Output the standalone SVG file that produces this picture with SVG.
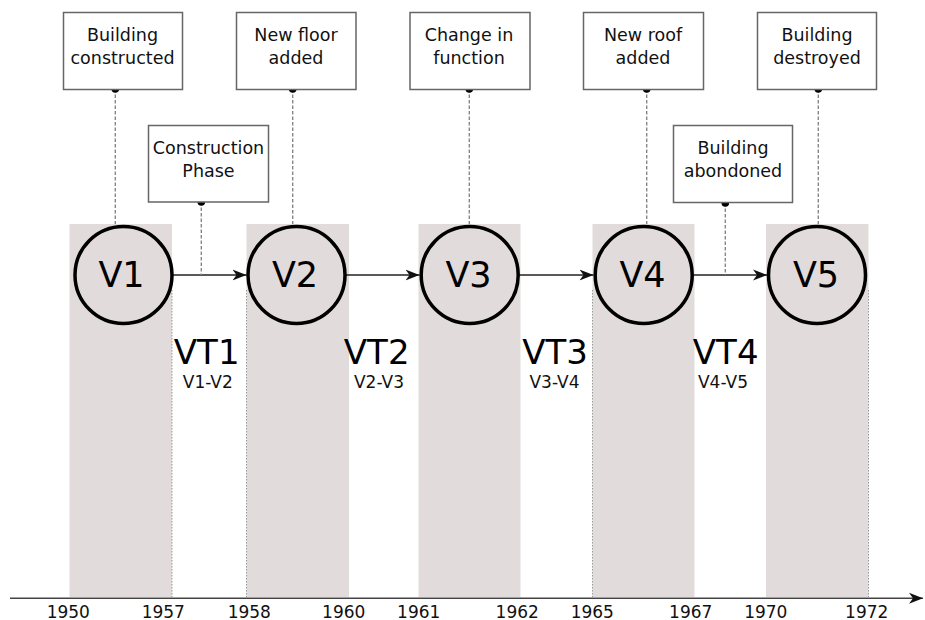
<svg xmlns="http://www.w3.org/2000/svg" width="925" height="620" viewBox="0 0 925 620">
<style>
.band{fill:#e2dbdc;stroke:none}
.edge{stroke:#999;stroke-width:1;stroke-dasharray:1.5,1.5;fill:none}
.box{fill:#fff;stroke:#666;stroke-width:1.5}
.bt{font-family:"DejaVu Sans",sans-serif;font-size:17.5px;fill:#111;text-anchor:middle}
.circ{fill:#e2dbdc;stroke:#000;stroke-width:3.5}
.vt{font-family:"DejaVu Sans",sans-serif;font-size:35px;fill:#000;text-anchor:middle}
.vtl{font-family:"DejaVu Sans",sans-serif;font-size:34px;fill:#000;text-anchor:middle}
.vs{font-family:"DejaVu Sans",sans-serif;font-size:17px;fill:#111;text-anchor:middle}
.yr{font-family:"DejaVu Sans",sans-serif;font-size:17px;fill:#111;text-anchor:middle}
.arr{stroke:#222;stroke-width:1.5;fill:none}
.dash{stroke:#888;stroke-width:1.4;stroke-dasharray:3.5,2;fill:none}
.dot{fill:#000}
</style>
<defs>
<marker id="ah" markerUnits="userSpaceOnUse" markerWidth="16" markerHeight="12" refX="14" refY="6" orient="auto">
<path d="M14,6 L0,0.5 L4,6 L0,11.5 Z" fill="#111"/>
</marker>
<marker id="axh" markerUnits="userSpaceOnUse" markerWidth="16" markerHeight="12" refX="14" refY="6" orient="auto">
<path d="M14,6 L0,0.5 L4,6 L0,11.5 Z" fill="#111"/>
</marker>
</defs>
<g id="bands">
<rect class="band" x="69.5" y="224" width="102.5" height="373"/>
<rect class="band" x="246.5" y="224" width="102.5" height="373"/>
<rect class="band" x="418.5" y="224" width="102" height="373"/>
<rect class="band" x="592.5" y="224" width="102" height="373"/>
<rect class="band" x="766" y="224" width="102.5" height="373"/>
<line class="edge" x1="172" y1="290" x2="172" y2="597"/>
<line class="edge" x1="246.5" y1="290" x2="246.5" y2="597"/>
<line class="edge" x1="592.5" y1="290" x2="592.5" y2="597"/>
<line class="edge" x1="868.5" y1="290" x2="868.5" y2="597"/>
</g>
<g id="axis">
<line x1="10" y1="598.3" x2="923" y2="598.3" stroke="#444" stroke-width="1.5" marker-end="url(#axh)"/>
<text class="yr" x="68.3" y="617.5">1950</text>
<text class="yr" x="163.3" y="617.5">1957</text>
<text class="yr" x="249.3" y="617.5">1958</text>
<text class="yr" x="343.7" y="617.5">1960</text>
<text class="yr" x="418.7" y="617.5">1961</text>
<text class="yr" x="517.2" y="617.5">1962</text>
<text class="yr" x="592.3" y="617.5">1965</text>
<text class="yr" x="690.7" y="617.5">1967</text>
<text class="yr" x="765.8" y="617.5">1970</text>
<text class="yr" x="866.7" y="617.5">1972</text>
</g>
<g id="connectors">
<line class="arr" x1="172" y1="275" x2="246.5" y2="275" marker-end="url(#ah)"/>
<line class="arr" x1="346" y1="275" x2="419.5" y2="275" marker-end="url(#ah)"/>
<line class="arr" x1="519.5" y1="275" x2="593.5" y2="275" marker-end="url(#ah)"/>
<line class="arr" x1="693.5" y1="275" x2="767" y2="275" marker-end="url(#ah)"/>
<line class="dash" x1="115.3" y1="89" x2="115.3" y2="224"/>
<circle class="dot" cx="115.3" cy="89" r="3.8"/>
<line class="dash" x1="292.7" y1="89" x2="292.7" y2="224"/>
<circle class="dot" cx="292.7" cy="89" r="3.8"/>
<line class="dash" x1="201.3" y1="202" x2="201.3" y2="275"/>
<circle class="dot" cx="201.3" cy="202" r="3.8"/>
<line class="dash" x1="469.3" y1="89" x2="469.3" y2="224"/>
<circle class="dot" cx="469.3" cy="89" r="3.8"/>
<line class="dash" x1="646.7" y1="89" x2="646.7" y2="224"/>
<circle class="dot" cx="646.7" cy="89" r="3.8"/>
<line class="dash" x1="818.3" y1="89" x2="818.3" y2="224"/>
<circle class="dot" cx="818.3" cy="89" r="3.8"/>
<line class="dash" x1="725.3" y1="203" x2="725.3" y2="275"/>
<circle class="dot" cx="725.3" cy="203" r="3.8"/>
</g>
<g id="box-built">
<rect class="box" x="63.5" y="12.5" width="119" height="77"/>
<text class="bt" x="122.5" y="40.5">Building</text>
<text class="bt" x="122.5" y="63.5">constructed</text>
</g>
<g id="box-floor">
<rect class="box" x="236.5" y="12.5" width="119.5" height="77"/>
<text class="bt" x="296" y="40.5">New floor</text>
<text class="bt" x="296" y="63.5">added</text>
</g>
<g id="box-phase">
<rect class="box" x="148.5" y="125.5" width="120" height="76.5"/>
<text class="bt" x="208.5" y="153.5">Construction</text>
<text class="bt" x="208.5" y="176.5">Phase</text>
</g>
<g id="box-function">
<rect class="box" x="410" y="12.5" width="120" height="77"/>
<text class="bt" x="469" y="40.5">Change in</text>
<text class="bt" x="469" y="63.5">function</text>
</g>
<g id="box-roof">
<rect class="box" x="583.5" y="12.5" width="120" height="77"/>
<text class="bt" x="643" y="40.5">New roof</text>
<text class="bt" x="643" y="63.5">added</text>
</g>
<g id="box-destroyed">
<rect class="box" x="757.5" y="12.5" width="119" height="77"/>
<text class="bt" x="817" y="40.5">Building</text>
<text class="bt" x="817" y="63.5">destroyed</text>
</g>
<g id="box-abandoned">
<rect class="box" x="673.5" y="125.5" width="119" height="77"/>
<text class="bt" x="733" y="154">Building</text>
<text class="bt" x="733" y="177">abondoned</text>
</g>
<g id="V1"><circle class="circ" cx="123.5" cy="275" r="48.5"/><text class="vt" x="121.5" y="287">V1</text></g>
<g id="V2"><circle class="circ" cx="296.5" cy="275" r="48.5"/><text class="vt" x="295" y="287">V2</text></g>
<g id="V3"><circle class="circ" cx="469.7" cy="275" r="48.5"/><text class="vt" x="468.5" y="287">V3</text></g>
<g id="V4"><circle class="circ" cx="643.7" cy="275" r="48.5"/><text class="vt" x="642.5" y="287">V4</text></g>
<g id="V5"><circle class="circ" cx="817" cy="275" r="48.5"/><text class="vt" x="816" y="287">V5</text></g>
<g id="VT1"><text class="vtl" x="206.7" y="363.5">VT1</text><text class="vs" x="207.8" y="388">V1-V2</text></g>
<g id="VT2"><text class="vtl" x="376.7" y="363.5">VT2</text><text class="vs" x="379" y="388">V2-V3</text></g>
<g id="VT3"><text class="vtl" x="555" y="363.5">VT3</text><text class="vs" x="554.5" y="388">V3-V4</text></g>
<g id="VT4"><text class="vtl" x="725.7" y="363.5">VT4</text><text class="vs" x="723" y="388">V4-V5</text></g>
</svg>
